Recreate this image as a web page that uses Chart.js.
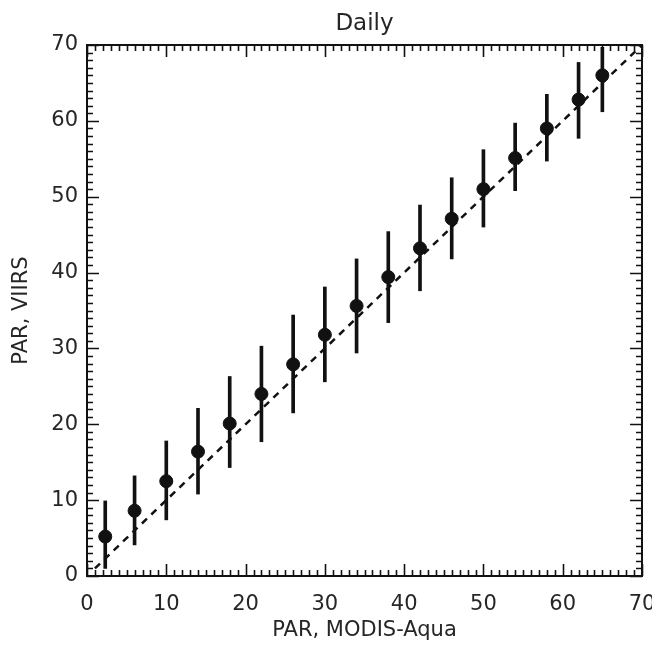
<!DOCTYPE html>
<html>
<head>
<meta charset="utf-8">
<script src="https://cdn.jsdelivr.net/npm/chart.js@4/dist/chart.umd.min.js"></script>
<style>
  html, body { margin: 0; padding: 0; background: #ffffff; }
  #wrap { width: 652px; height: 646px; }
</style>
</head>
<body>
<div id="wrap"><canvas id="c" width="652" height="646"></canvas></div>
<script>
// ---- Data ----
const parModis  = [2.3, 6, 10, 14, 18, 22, 26, 30, 34, 38, 42, 46, 50, 54, 58, 62, 65];
const parViirs  = [5.2, 8.6, 12.5, 16.4, 20.1, 24.0, 27.9, 31.8, 35.6, 39.4, 43.2, 47.1, 51.0, 55.1, 59.0, 62.8, 66.0];
const viirsLow  = [1.0, 4.1, 7.4, 10.8, 14.3, 17.7, 21.5, 25.6, 29.4, 33.4, 37.6, 41.8, 46.0, 50.8, 54.7, 57.7, 61.2];
const viirsHigh = [9.9, 13.2, 17.8, 22.1, 26.3, 30.3, 34.4, 38.1, 41.8, 45.4, 48.9, 52.5, 56.2, 59.7, 63.5, 67.7, 69.7];
const oneToOneX = [1, 70];
const oneToOneY = [1, 70];
const xTickLabels = ['0', '10', '20', '30', '40', '50', '60', '70'];
const yTickLabels = ['0', '10', '20', '30', '40', '50', '60', '70'];
const titleText = 'Daily';
const xTitle = 'PAR, MODIS-Aqua';
const yTitle = 'PAR, VIIRS';

const FONT = '"DejaVu Sans", "Liberation Sans", sans-serif';
const INK = '#111111';
const TEXT = '#262626';

const pointsData = parModis.map((x, i) => ({ x: x, y: parViirs[i] }));
const errorData  = parModis.map((x, i) => ({ x: x, y: [viirsLow[i], viirsHigh[i]] }));
const lineData   = oneToOneX.map((x, i) => ({ x: x, y: oneToOneY[i] }));

// IDL-style frame with inward major/minor ticks on all four sides
const frameTicks = {
  id: 'frameTicks',
  afterDatasetsDraw(chart) {
    const { ctx, chartArea: a, scales: { x, y } } = chart;
    ctx.save();
    ctx.strokeStyle = INK;
    ctx.lineWidth = 1.6;
    ctx.beginPath();
    for (let v = 0; v <= 70; v += 1) {
      const len = (v % 10 === 0) ? 12 : 6;
      const px = Math.round(x.getPixelForValue(v)) + 0.5;
      ctx.moveTo(px, a.bottom); ctx.lineTo(px, a.bottom - len);
      ctx.moveTo(px, a.top);    ctx.lineTo(px, a.top + len);
      const py = Math.round(y.getPixelForValue(v)) + 0.5;
      ctx.moveTo(a.left, py);  ctx.lineTo(a.left + len, py);
      ctx.moveTo(a.right, py); ctx.lineTo(a.right - len, py);
    }
    ctx.stroke();
    ctx.lineWidth = 2;
    ctx.strokeRect(a.left, a.top, a.right - a.left, a.bottom - a.top);
    ctx.restore();
  }
};

new Chart(document.getElementById('c'), {
  type: 'scatter',
  data: {
    datasets: [
      {
        type: 'line',
        label: '1:1',
        data: lineData,
        borderColor: INK,
        borderWidth: 2.5,
        borderDash: [7, 6],
        pointRadius: 0,
        fill: false,
        order: 3
      },
      {
        type: 'bar',
        label: 'range',
        data: errorData,
        backgroundColor: INK,
        borderWidth: 0,
        barThickness: 3,
        grouped: false,
        order: 2
      },
      {
        type: 'scatter',
        label: 'mean',
        data: pointsData,
        backgroundColor: INK,
        borderColor: INK,
        pointRadius: 6.5,
        pointHoverRadius: 6.5,
        order: 1
      }
    ]
  },
  options: {
    responsive: false,
    animation: false,
    events: [],
    layout: { padding: { top: 0, right: 10, bottom: 0, left: 0 } },
    plugins: {
      legend: { display: false },
      tooltip: { enabled: false },
      title: {
        display: true,
        text: titleText,
        fullSize: false,
        color: TEXT,
        font: { family: FONT, size: 23, weight: 'normal' },
        padding: { top: 10, bottom: 7.4 }
      }
    },
    scales: {
      x: {
        type: 'linear',
        min: 0, max: 70,
        offset: false,
        grid: { display: false, drawTicks: false },
        border: { display: false },
        ticks: {
          stepSize: 10,
          padding: 16,
          color: TEXT,
          maxRotation: 0,
          font: { family: FONT, size: 21 },
          callback: (v) => xTickLabels[Math.round(v / 10)]
        },
        title: {
          display: true,
          text: xTitle,
          color: TEXT,
          font: { family: FONT, size: 21 },
          padding: { top: 0, bottom: 2.4 }
        },
        afterFit(s) { s.height = 70; s.paddingLeft = 0; s.paddingRight = 0; }
      },
      y: {
        type: 'linear',
        min: 0, max: 70,
        grid: { display: false, drawTicks: false },
        border: { display: false },
        ticks: {
          stepSize: 10,
          padding: 9,
          color: TEXT,
          font: { family: FONT, size: 21 },
          callback: (v) => yTickLabels[Math.round(v / 10)]
        },
        title: {
          display: true,
          text: yTitle,
          color: TEXT,
          font: { family: FONT, size: 21 },
          padding: { top: 9.4, bottom: 0 }
        },
        afterFit(s) { s.width = 87; s.paddingTop = 0; s.paddingBottom = 0; }
      }
    }
  },
  plugins: [frameTicks]
});
</script>
</body>
</html>
